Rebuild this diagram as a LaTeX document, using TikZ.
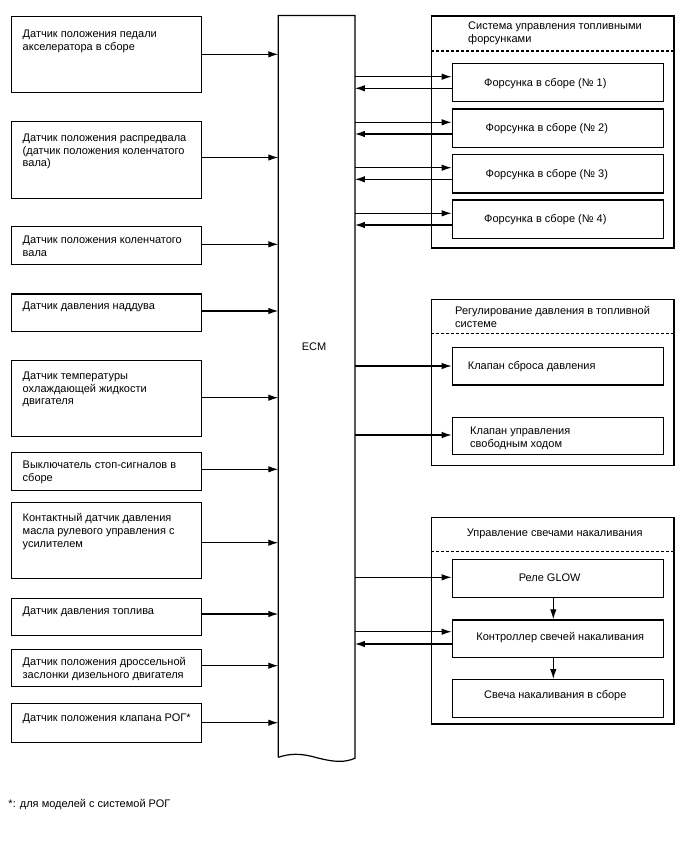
\documentclass[tikz,border=0pt]{standalone}
\usepackage{fontspec}
\setmainfont{Liberation Sans}
\usetikzlibrary{arrows.meta}
\newcommand\fs{\fontsize{11}{12.7}\selectfont}
\begin{document}
\begin{tikzpicture}[x=1pt,y=-1pt,
  bx/.style={draw, line width=1.2pt, inner sep=0pt, anchor=north west},
  arr/.style={-{Latex[length=10pt,width=6.5pt]}, line width=1.2pt},
  txt/.style={anchor=north west, inner sep=0pt, align=left, font=\fs, execute at begin node=\strut, yshift=-2.5pt},
  one/.style={anchor=base west, inner sep=0pt, font=\fs},
  ctr/.style={anchor=base, inner sep=0pt, font=\fs},
  dsh/.style={line width=1.2pt, dash pattern=on 3pt off 2pt}]
\useasboundingbox (0,0) rectangle (688,852);
% ---- left sensors
\node[bx, minimum width=190pt, minimum height=76.3pt] (s1) at (11,15.7) {};
\node[bx, minimum width=190pt, minimum height=76.7pt] (s2) at (11,121) {};
\node[bx, minimum width=190pt, minimum height=38.3pt] (s3) at (11,225.7) {};
\node[bx, minimum width=190pt, minimum height=37.4pt] (s4) at (11,293.3) {};
\node[bx, minimum width=190pt, minimum height=76pt] (s5) at (11,360) {};
\node[bx, minimum width=190pt, minimum height=38.3pt] (s6) at (11,451.7) {};
\node[bx, minimum width=190pt, minimum height=76pt] (s7) at (11,501.7) {};
\node[bx, minimum width=190pt, minimum height=37.3pt] (s8) at (11,597.7) {};
\node[bx, minimum width=190pt, minimum height=37pt] (s9) at (11,649) {};
\node[bx, minimum width=190pt, minimum height=39pt] (s10) at (11,702.7) {};
\node[txt] (t1) at (22.5,36.5-8.9) {Датчик положения педали\\акселератора в сборе};
\node[txt] (t2) at (22.5,140-8.9) {Датчик положения распредвала\\(датчик положения коленчатого\\вала)};
\node[txt] (t3) at (22.5,242-8.9) {Датчик положения коленчатого\\вала};
\node[one] (t4) at (22.5,309.5) {Датчик давления наддува};
\node[txt] (t5) at (22.5,378-8.9) {Датчик температуры\\охлаждающей жидкости\\двигателя};
\node[txt] (t6) at (22.5,467-8.9) {Выключатель стоп-сигналов в\\сборе};
\node[txt] (t7) at (22.5,520-8.9) {Контактный датчик давления\\масла рулевого управления с\\усилителем};
\node[one] (t8) at (22.5,614.5) {Датчик давления топлива};
\node[txt] (t9) at (22.5,663.5-8.9) {Датчик положения дроссельной\\заслонки дизельного двигателя};
\node[one] (t10) at (22.5,721.5) {Датчик положения клапана РОГ*};
% ---- ECM
\node[inner sep=0pt, anchor=north west, minimum width=76.2pt, minimum height=742pt] (ecm) at (278.3,15.5) {};
\draw[line width=1.2pt] (ecm.south west |- 0,757.3) -- (ecm.north west) -- (ecm.north east) -- (ecm.south east |- 0,758.3)
  .. controls (345,762.5) and (335,762.5) .. (316,757.5)
  .. controls (300,753) and (290,753.5) .. (ecm.south west |- 0,757.3);
\node[ctr] (ecml) at (314,350) {ECM};
% sensor arrows
\foreach \s/\y in {s1/54.3, s2/157.5, s3/244.3, s4/311, s5/397.7, s6/469.3, s7/542.7, s8/614, s9/665.7, s10/722.7}
  \draw[arr] (\s.east |- 0,\y) -- (ecm.west |- 0,\y);
% ---- group 1: injectors
\node[bx, minimum width=242.3pt, minimum height=232pt] (g1) at (431,15.3) {};
\draw[dsh] (g1.west |- 0,51) -- (g1.east |- 0,51);
\node[txt] (g1t) at (468,28.3-8.9) {Система управления топливными\\форсунками};
\node[bx, minimum width=211pt, minimum height=38.3pt] (i1) at (451.7,62.7) {};
\node[bx, minimum width=211pt, minimum height=38.4pt] (i2) at (451.7,108.3) {};
\node[bx, minimum width=211pt, minimum height=38.3pt] (i3) at (451.7,154) {};
\node[bx, minimum width=211pt, minimum height=38.4pt] (i4) at (451.7,199.3) {};
\node[one] (it1) at (484,86) {Форсунка в сборе (№ 1)};
\node[one] (it2) at (485.5,131.5) {Форсунка в сборе (№ 2)};
\node[one] (it3) at (485.5,177) {Форсунка в сборе (№ 3)};
\node[one] (it4) at (484,222.5) {Форсунка в сборе (№ 4)};
\foreach \b/\ya/\yb in {i1/76.7/88.3, i2/122.3/134, i3/167.7/179.3, i4/213.3/225}{
  \draw[arr] (ecm.east |- 0,\ya) -- (\b.west |- 0,\ya);
  \draw[arr] (\b.west |- 0,\yb) -- (ecm.east |- 0,\yb);
}
% ---- group 2: pressure regulation
\node[bx, minimum width=242.3pt, minimum height=166pt] (g2) at (431,299) {};
\draw[dsh] (g2.west |- 0,333.3) -- (g2.east |- 0,333.3);
\node[txt] (g2t) at (455,313-8.9) {Регулирование давления в топливной\\системе};
\node[bx, minimum width=211pt, minimum height=37.6pt] (v1) at (451.7,346.7) {};
\node[bx, minimum width=211pt, minimum height=37.3pt] (v2) at (451.7,416.7) {};
\node[one] (vt1) at (467.7,369) {Клапан сброса давления};
\node[txt] (vt2) at (470,433.5-8.9) {Клапан управления\\свободным ходом};
\draw[arr] (ecm.east |- 0,366) -- (v1.west |- 0,366);
\draw[arr] (ecm.east |- 0,435) -- (v2.west |- 0,435);
% ---- group 3: glow plugs
\node[bx, minimum width=242.3pt, minimum height=206.6pt] (g3) at (431,516.7) {};
\draw[dsh] (g3.west |- 0,551.7) -- (g3.east |- 0,551.7);
\node[ctr] (g3t) at (554.7,536) {Управление свечами накаливания};
\node[bx, minimum width=211pt, minimum height=37.7pt] (gl) at (451.7,559) {};
\node[bx, minimum width=211pt, minimum height=37.4pt] (gc) at (451.7,619.3) {};
\node[bx, minimum width=211pt, minimum height=37.7pt] (gp) at (451.7,679) {};
\node[ctr] (glt) at (549.7,581) {Реле GLOW};
\node[ctr] (gct) at (560.3,640.5) {Контроллер свечей накаливания};
\node[ctr] (gpt) at (555.3,698) {Свеча накаливания в сборе};
\draw[arr] (ecm.east |- 0,577.3) -- (gl.west |- 0,577.3);
\draw[arr] (ecm.east |- 0,631.7) -- (gc.west |- 0,631.7);
\draw[arr] (gc.west |- 0,644) -- (ecm.east |- 0,644);
\draw[arr] (gl.south -| 553.3,0) -- (gc.north -| 553.3,0);
\draw[arr] (gc.south -| 553.3,0) -- (gp.north -| 553.3,0);
% ---- footnote
\node[one] (fn) at (8.3,807) {*: для моделей с системой РОГ};
\end{tikzpicture}
\end{document}
